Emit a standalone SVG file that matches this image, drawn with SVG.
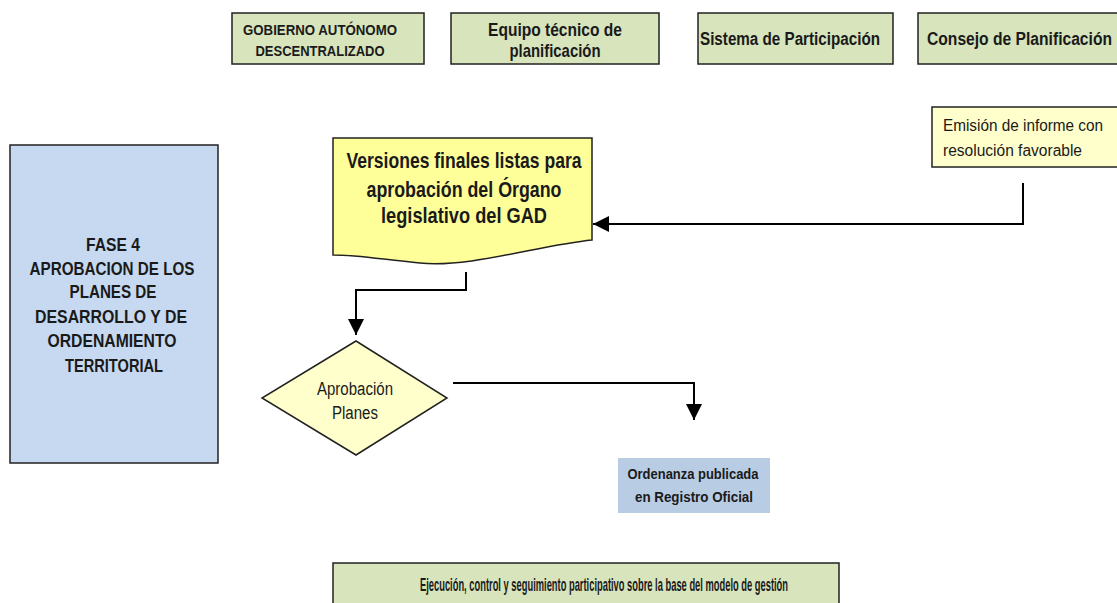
<svg xmlns="http://www.w3.org/2000/svg" width="1117" height="603" viewBox="0 0 1117 603">
<style>
text{font-family:"Liberation Sans Narrow","Liberation Sans",Arial,sans-serif;fill:#1a1a1a}
.b{font-weight:bold}
.m{text-anchor:middle}
.green{fill:#d7e4bc;stroke:#222;stroke-width:1.5}
.conn{fill:none;stroke:#000;stroke-width:2}
</style>
<defs>
<marker id="ah2" viewBox="0 0 10 10" refX="10" refY="5" markerWidth="9" markerHeight="8" markerUnits="strokeWidth" orient="auto">
<path d="M0,0 L10,5 L0,10 z" fill="#000"/>
</marker>
</defs>
<rect width="1117" height="603" fill="#fff"/>

<g id="gad">
<rect class="green" x="232" y="13" width="192" height="51"/>
<text class="b m" x="320" y="35" font-size="14" textLength="154" lengthAdjust="spacingAndGlyphs">GOBIERNO AUTÓNOMO</text>
<text class="b m" x="320" y="56" font-size="14" textLength="129" lengthAdjust="spacingAndGlyphs">DESCENTRALIZADO</text>
</g>
<g id="equipo">
<rect class="green" x="451" y="13" width="208" height="51"/>
<text class="b m" x="555" y="36" font-size="18.5" textLength="134" lengthAdjust="spacingAndGlyphs">Equipo técnico de</text>
<text class="b m" x="555" y="57" font-size="18.5" textLength="91" lengthAdjust="spacingAndGlyphs">planificación</text>
</g>
<g id="sistema">
<rect class="green" x="698" y="13" width="195" height="51"/>
<text class="b m" x="790" y="45" font-size="18" textLength="180" lengthAdjust="spacingAndGlyphs">Sistema de Participación</text>
</g>
<g id="consejo">
<rect class="green" x="918" y="13" width="210" height="51"/>
<text class="b" x="927" y="45" font-size="18" textLength="185" lengthAdjust="spacingAndGlyphs">Consejo de Planificación</text>
</g>

<g id="emision">
<rect x="932" y="107" width="200" height="60" fill="#ffffcc" stroke="#222" stroke-width="1.5"/>
<text x="943" y="131" font-size="16" textLength="160" lengthAdjust="spacingAndGlyphs">Emisión de informe con</text>
<text x="943" y="156" font-size="16" textLength="139" lengthAdjust="spacingAndGlyphs">resolución favorable</text>
</g>

<g id="fase">
<rect x="10" y="145" width="208" height="318" fill="#c6d9f1" stroke="#222" stroke-width="1.5"/>
<text class="b m" font-size="18" x="113" y="251" textLength="54" lengthAdjust="spacingAndGlyphs">FASE 4</text>
<text class="b m" font-size="18" x="112" y="275" textLength="165" lengthAdjust="spacingAndGlyphs">APROBACION DE LOS</text>
<text class="b m" font-size="18" x="113" y="298" textLength="87" lengthAdjust="spacingAndGlyphs">PLANES DE</text>
<text class="b m" font-size="18" x="111" y="323" textLength="152" lengthAdjust="spacingAndGlyphs">DESARROLLO Y DE</text>
<text class="b m" font-size="18" x="112" y="347" textLength="129" lengthAdjust="spacingAndGlyphs">ORDENAMIENTO</text>
<text class="b m" font-size="18" x="114" y="372" textLength="98" lengthAdjust="spacingAndGlyphs">TERRITORIAL</text>
</g>

<g id="versiones">
<path d="M333,138 L592,138 L592,240 C540,245 470,268 420,263 C385,260 360,255 333,255 Z" fill="#ffff99" stroke="#222" stroke-width="1.5"/>
<text class="b m" font-size="22.5" x="464" y="168" textLength="235" lengthAdjust="spacingAndGlyphs">Versiones finales listas para</text>
<text class="b m" font-size="22.5" x="464" y="197" textLength="195" lengthAdjust="spacingAndGlyphs">aprobación del Órgano</text>
<text class="b m" font-size="22.5" x="464" y="223" textLength="166" lengthAdjust="spacingAndGlyphs">legislativo del GAD</text>
</g>

<g id="aprobacion">
<path d="M356,341 L447,398 L356,455 L262,398 Z" fill="#ffffcc" stroke="#222" stroke-width="1.5"/>
<text class="m" font-size="18" x="355" y="395" textLength="76" lengthAdjust="spacingAndGlyphs">Aprobación</text>
<text class="m" font-size="18" x="355" y="419" textLength="46" lengthAdjust="spacingAndGlyphs">Planes</text>
</g>

<g id="ordenanza">
<rect x="618" y="458" width="152" height="55" fill="#b8cce4"/>
<text class="b m" font-size="14.5" x="693" y="479" textLength="131" lengthAdjust="spacingAndGlyphs">Ordenanza publicada</text>
<text class="b m" font-size="14.5" x="694" y="502" textLength="118" lengthAdjust="spacingAndGlyphs">en Registro Oficial</text>
</g>

<g id="ejecucion">
<rect class="green" x="333" y="563" width="506" height="50"/>
<text class="b m" font-size="19" x="604" y="591" textLength="368" lengthAdjust="spacingAndGlyphs">Ejecución, control y seguimiento participativo sobre la base del modelo de gestión</text>
</g>

<g id="connectors">
<polyline class="conn" points="1023,183 1023,224 593,224" marker-end="url(#ah2)"/>
<polyline class="conn" points="466,272 466,290 356,290 356,335" marker-end="url(#ah2)"/>
<polyline class="conn" points="453,383 694,383 694,420" marker-end="url(#ah2)"/>
</g>
</svg>
